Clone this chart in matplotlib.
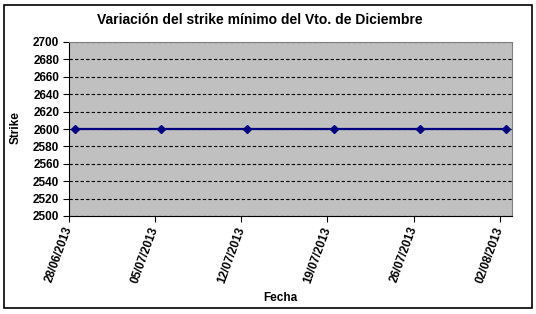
import matplotlib
matplotlib.use("Agg")
import matplotlib.pyplot as plt
import matplotlib.dates as mdates
import matplotlib.transforms as mtransforms
from matplotlib.patches import Rectangle
import datetime as dt

plt.rcParams['font.family'] = ['Liberation Sans', 'DejaVu Sans']

dates = ["28/06/2013", "05/07/2013", "12/07/2013", "19/07/2013", "26/07/2013", "02/08/2013"]
strike = [2600, 2600, 2600, 2600, 2600, 2600]
yticks = list(range(2500, 2701, 20))

d = [dt.datetime.strptime(s, "%d/%m/%Y") for s in dates]
xn = [mdates.date2num(x) for x in d]

fig = plt.figure(figsize=(5.36, 3.14), dpi=100)
fig.patches.append(Rectangle((4/536, 1-308/314), 528/536, 303/314, transform=fig.transFigure,
                             fill=False, edgecolor='black', linewidth=1.2))
ax = fig.add_axes([69/536, 1-216/314, 443/536, 174/314])
ax.set_facecolor('#C0C0C0')
ax.plot([x + 0.5 for x in xn], strike, color='#000080', linewidth=1.6, marker='D',
        markersize=4.5, markerfacecolor='#000080', markeredgecolor='#000080', zorder=3)
ax.set_xlim(xn[0], xn[-1] + 1)
ax.set_ylim(2500, 2700)
ax.set_yticks(yticks)
ax.set_yticklabels([str(v) for v in yticks], fontsize=8.5, fontweight='bold')
ax.set_xticks(xn)
ax.set_xticklabels(dates, fontsize=8.5, fontweight='bold', rotation=70,
                   ha='right', va='center', rotation_mode='anchor')
off = mtransforms.ScaledTranslation(4/100, -4/100, fig.dpi_scale_trans)
for lbl in ax.get_xticklabels():
    lbl.set_transform(lbl.get_transform() + off)
ax.tick_params(axis='x', length=4, width=0.8, pad=4)
ax.tick_params(axis='y', length=4, width=0.8, pad=3)
ax.yaxis.grid(True, color='black', linestyle=(0, (3, 2)), linewidth=0.8)
ax.set_axisbelow(True)
for s in ['top', 'right']:
    ax.spines[s].set_color('#808080')
    ax.spines[s].set_linewidth(0.8)
for s in ['left', 'bottom']:
    ax.spines[s].set_color('black')
    ax.spines[s].set_linewidth(0.8)
fig.text(260/536, 1-20/314, "Variación del strike mínimo del Vto. de Diciembre",
         ha='center', va='center', fontsize=10, fontweight='bold')
fig.text(16/536, 1-128/314, "Strike", rotation=90, ha='center', va='center',
         fontsize=8.5, fontweight='bold')
fig.text(280/536, 1-298/314, "Fecha", ha='center', va='center',
         fontsize=8.5, fontweight='bold')
fig.savefig("out.png", dpi=100)
